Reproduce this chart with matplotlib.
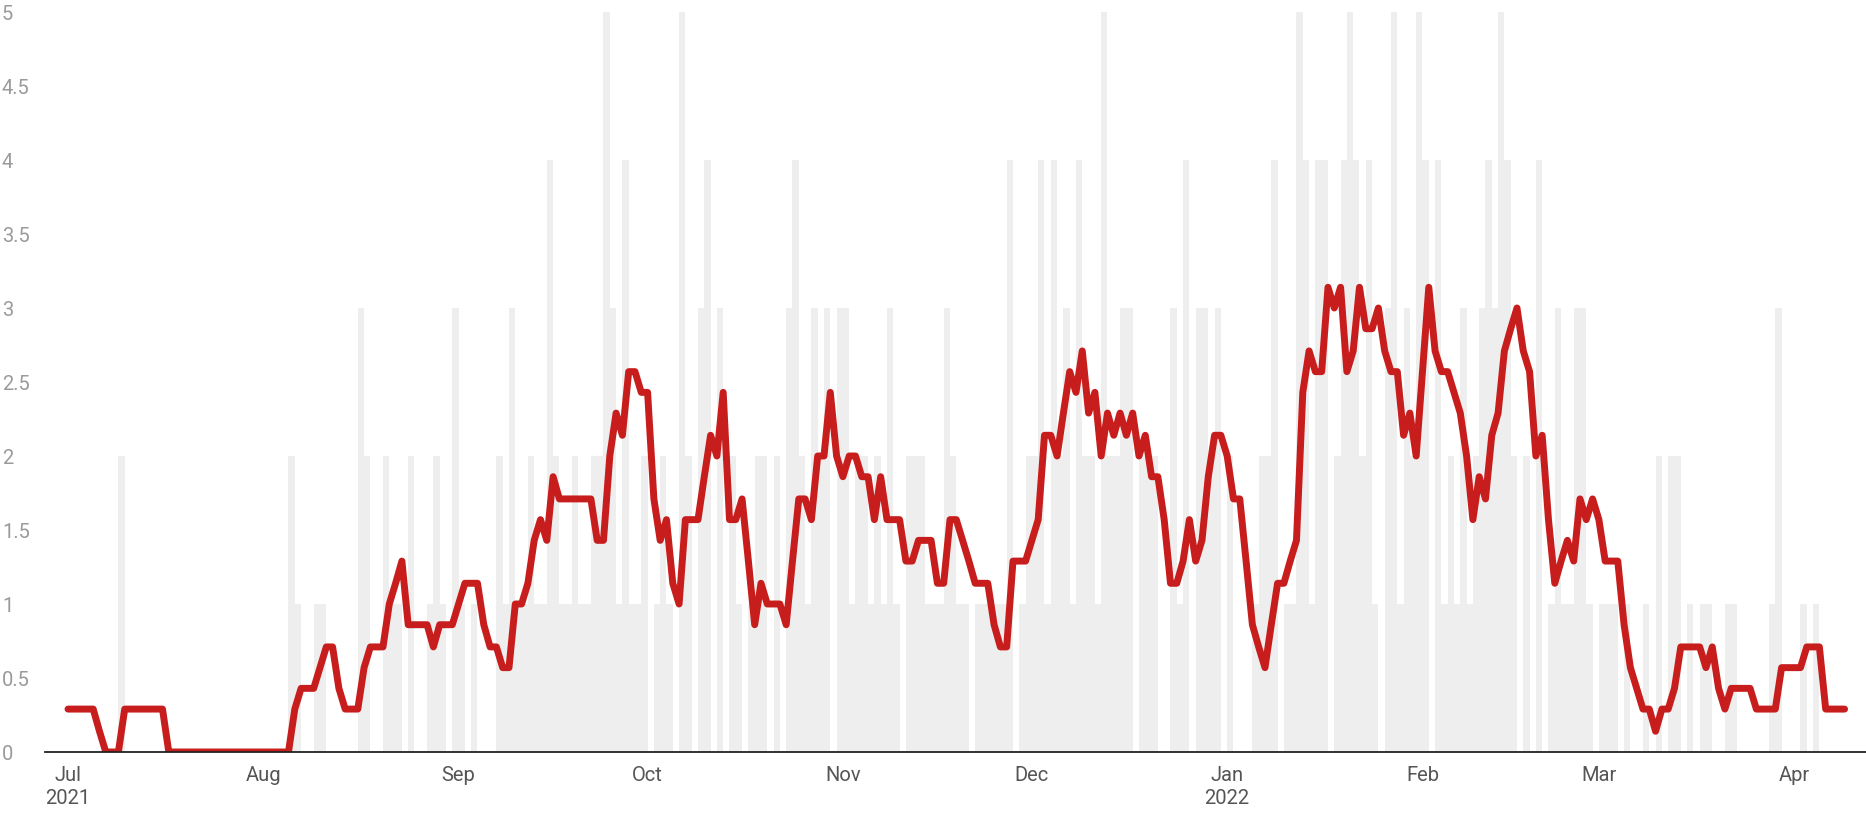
import matplotlib
matplotlib.use("Agg")
import matplotlib.pyplot as plt
import matplotlib.dates as mdates
import numpy as np
import pandas as pd

start_date = "2021-07-01"

# daily counts (grey bars), month by month
bars_jul = [0,0,0,0,0,0,0,0,0,2,0,0,0,0,0,0,0,0,0,0,0,0,0,0,0,0,0,0,0,0,0]
bars_aug = [0,0,0,0,0,2,1,0,0,1,1,0,0,0,0,0,3,2,0,0,2,1,1,0,2,0,0,1,2,1,0]
bars_sep = [3,1,0,1,0,0,0,2,1,3,1,1,2,1,1,4,2,1,1,2,1,1,2,2,5,3,1,4,1,1]
bars_oct = [2,0,1,2,1,0,6,2,0,3,4,0,3,0,2,1,0,1,2,2,0,2,0,3,4,2,1,3,2,3,0]
bars_nov = [3,3,1,2,2,1,2,1,3,1,0,2,2,2,1,1,1,3,2,1,1,0,1,1,1,1,1,4,0,1]
bars_dec = [2,2,4,1,4,2,3,1,4,2,2,1,5,2,2,3,3,0,2,2,2,0,0,3,1,4,0,3,3,2,3]
bars_jan = [0,2,0,0,0,1,2,2,4,0,1,1,8,4,1,4,4,0,2,4,5,4,2,4,1,0,3,5,1,3,2]
bars_feb = [5,4,0,4,1,2,1,3,1,2,3,4,3,5,4,2,0,2,0,4,0,1,3,1,1,3,3,1]
bars_mar = [0,1,1,1,0,1,0,0,1,0,2,0,2,2,0,1,0,1,1,0,0,1,1,0,0,0,0,0,1,3,0]
bars_apr = [0,0,1,0,1,0,0,0,0]

# 7-day average (red line), month by month
avg_jul = [0.29,0.29,0.29,0.29,0.29,0.14,0,0,0,0.29,0.29,0.29,0.29,0.29,0.29,0.29,
           0,0,0,0,0,0,0,0,0,0,0,0,0,0,0]
avg_aug = [0,0,0,0,0,0.29,0.43,0.43,0.43,0.57,0.71,0.71,0.43,0.29,0.29,0.29,0.57,0.71,
           0.71,0.71,1.0,1.14,1.29,0.86,0.86,0.86,0.86,0.71,0.86,0.86,0.86]
avg_sep = [1.0,1.14,1.14,1.14,0.86,0.71,0.71,0.57,0.57,1.0,1.0,1.14,1.43,1.57,1.43,1.86,
           1.71,1.71,1.71,1.71,1.71,1.71,1.43,1.43,2.0,2.29,2.14,2.57,2.57,2.43]
avg_oct = [2.43,1.71,1.43,1.57,1.14,1.0,1.57,1.57,1.57,1.86,2.14,2.0,2.43,1.57,1.57,1.71,
           1.29,0.86,1.14,1.0,1.0,1.0,0.86,1.29,1.71,1.71,1.57,2.0,2.0,2.43,2.0]
avg_nov = [1.86,2.0,2.0,1.86,1.86,1.57,1.86,1.57,1.57,1.57,1.29,1.29,1.43,1.43,1.43,1.14,
           1.14,1.57,1.57,1.43,1.29,1.14,1.14,1.14,0.86,0.71,0.71,1.29,1.29,1.29]
avg_dec = [1.43,1.57,2.14,2.14,2.0,2.29,2.57,2.43,2.71,2.29,2.43,2.0,2.29,2.14,2.29,2.14,
           2.29,2.0,2.14,1.86,1.86,1.57,1.14,1.14,1.29,1.57,1.29,1.43,1.86,2.14,2.14]
avg_jan = [2.0,1.71,1.71,1.29,0.86,0.71,0.57,0.86,1.14,1.14,1.29,1.43,2.43,2.71,2.57,2.57,
           3.14,3.0,3.14,2.57,2.71,3.14,2.86,2.86,3.0,2.71,2.57,2.57,2.14,2.29,2.0]
avg_feb = [2.57,3.14,2.71,2.57,2.57,2.43,2.29,2.0,1.57,1.86,1.71,2.14,2.29,2.71,2.86,3.0,
           2.71,2.57,2.0,2.14,1.57,1.14,1.29,1.43,1.29,1.71,1.57,1.71]
avg_mar = [1.57,1.29,1.29,1.29,0.86,0.57,0.43,0.29,0.29,0.14,0.29,0.29,0.43,0.71,0.71,0.71,
           0.71,0.57,0.71,0.43,0.29,0.43,0.43,0.43,0.43,0.29,0.29,0.29,0.29,0.57,0.57]
avg_apr = [0.57,0.57,0.71,0.71,0.71,0.29,0.29,0.29,0.29]

y_ticks = [0, 0.5, 1, 1.5, 2, 2.5, 3, 3.5, 4, 4.5, 5]
y_tick_labels = ["0", "0.5", "1", "1.5", "2", "2.5", "3", "3.5", "4", "4.5", "5"]
x_tick_dates = ["2021-07-01", "2021-08-01", "2021-09-01", "2021-10-01", "2021-11-01",
                "2021-12-01", "2022-01-01", "2022-02-01", "2022-03-01", "2022-04-01"]
x_tick_labels = ["Jul\n2021", "Aug", "Sep", "Oct", "Nov", "Dec", "Jan\n2022", "Feb", "Mar", "Apr"]

bars = (bars_jul + bars_aug + bars_sep + bars_oct + bars_nov + bars_dec +
        bars_jan + bars_feb + bars_mar + bars_apr)
avg = (avg_jul + avg_aug + avg_sep + avg_oct + avg_nov + avg_dec +
       avg_jan + avg_feb + avg_mar + avg_apr)
n = min(len(bars), len(avg))
bars = bars[:n]
avg = avg[:n]

dates = pd.date_range(start_date, periods=n, freq="D")
x = mdates.date2num(dates.to_pydatetime())
x0 = mdates.date2num(pd.Timestamp(start_date).to_pydatetime())

plt.rcParams["font.family"] = ["Roboto", "DejaVu Sans"]

W, H = 1866, 821
fig = plt.figure(figsize=(W / 100, H / 100), dpi=100)
fig.patch.set_facecolor("white")
ax = fig.add_axes([45 / W, 69 / H, (W - 45) / W, 740 / H])
ax.set_facecolor("white")

ax.bar(x - 1.0, bars, width=1.0, align="edge", color="#eeeeee",
       linewidth=0, zorder=1)
ax.plot(x, avg, color="#c71e1d", lw=5.0, solid_joinstyle="round",
        solid_capstyle="round", zorder=3)

ax.set_xlim(x0 - 3.65, x0 + 285.4)
ax.set_ylim(0, 5)

for s in ["top", "right", "left"]:
    ax.spines[s].set_visible(False)
ax.spines["bottom"].set_color("#222222")
ax.spines["bottom"].set_linewidth(1.3)
ax.spines["bottom"].set_zorder(4)

ax.set_yticks(y_ticks)
ax.set_yticklabels(y_tick_labels)
ax.tick_params(axis="y", length=0, pad=31, labelsize=14.5, labelcolor="#9a9a9a")
for lbl in ax.get_yticklabels():
    lbl.set_horizontalalignment("left")

xt = mdates.date2num(pd.to_datetime(x_tick_dates).to_pydatetime())
ax.set_xticks(xt)
ax.set_xticklabels(x_tick_labels, linespacing=1.25)
ax.tick_params(axis="x", length=0, pad=10, labelsize=14.5, labelcolor="#555555")

fig.savefig("out.png", dpi=100, facecolor="white")
